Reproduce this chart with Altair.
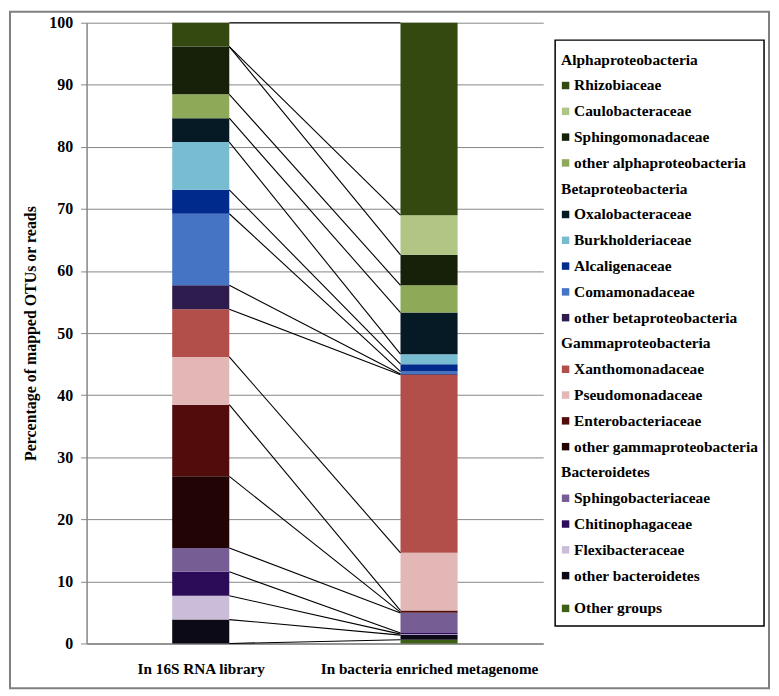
import altair as alt
import pandas as pd

# ---------------- data ----------------
samples = ["In 16S RNA library", "In bacteria enriched metagenome"]

groups = ["Alphaproteobacteria", "Betaproteobacteria", "Gammaproteobacteria", "Bacteroidetes"]

series = [
    "Rhizobiaceae", "Caulobacteraceae", "Sphingomonadaceae", "other alphaproteobacteria",
    "Oxalobacteraceae", "Burkholderiaceae", "Alcaligenaceae", "Comamonadaceae",
    "other betaproteobacteria",
    "Xanthomonadaceae", "Pseudomonadaceae", "Enterobacteriaceae", "other gammaproteobacteria",
    "Sphingobacteriaceae", "Chitinophagaceae", "Flexibacteraceae", "other bacteroidetes",
    "Other groups",
]
# index into groups (-1 = no header)
series_group = [0, 0, 0, 0, 1, 1, 1, 1, 1, 2, 2, 2, 2, 3, 3, 3, 3, -1]

# percentages, listed top of stack first
library_16s = [3.846, 0, 7.692, 3.846, 3.846, 7.692, 3.846, 11.538, 3.846,
               7.692, 7.692, 11.538, 11.538, 3.846, 3.846, 3.846, 3.846, 0]
metagenome = [31.0, 6.4, 4.9, 4.4, 6.7, 1.6, 1.2, 0.4, 0.1,
              28.7, 9.3, 0.3, 0.1, 3.2, 0.2, 0.15, 0.75, 0.6]

colors = [
    "#33490f", "#b1c584", "#172008", "#8eaa58",
    "#061a26", "#78bcd2", "#002a8c", "#4674c4", "#2e1c4e",
    "#b24f4b", "#e2b7b6", "#520c0b", "#220405",
    "#765d94", "#2c0b58", "#cabdd9", "#0c0a16",
    "#3e5f16",
]

y_ticks = list(range(0, 101, 10))
y_title = "Percentage of mapped OTUs or reads"

FONT = "Liberation Serif, Times New Roman, serif"
GRID = "#868686"

# ---------------- tables ----------------
bar_rows = []
tops = []
for i, vals in enumerate([library_16s, metagenome]):
    bottom = 0.0
    t = {}
    for name, v in zip(reversed(series), reversed(vals)):
        bar_rows.append(dict(pos=i, series=name, y0=bottom, y1=bottom + v))
        t[name] = bottom + v
        bottom += v
    tops.append(t)
bars_df = pd.DataFrame(bar_rows)
bars_df = bars_df[bars_df.y1 > bars_df.y0]

lines_df = pd.DataFrame({
    "series": series,
    "yl": [tops[0][s] for s in series],
    "yr": [tops[1][s] for s in series],
})

leg_rows = []
r = 0
for g_idx, g in enumerate(groups):
    leg_rows.append(dict(label=g, kind="header", row=r, color="#ffffff"))
    r += 1
    for s, gi, c in zip(series, series_group, colors):
        if gi == g_idx:
            leg_rows.append(dict(label=s, kind="item", row=r, color=c))
            r += 1
for s, gi, c in zip(series, series_group, colors):
    if gi == -1:
        leg_rows.append(dict(label=s, kind="item", row=r + 0.27, color=c))
        r += 1
leg_df = pd.DataFrame(leg_rows)

# ---------------- main chart ----------------
label_expr = f"datum.value < 1 ? '{samples[0]}' : '{samples[1]}'"
x_scale = alt.Scale(domain=[0, 2], nice=False, zero=False)
x_axis = alt.Axis(values=[0.5, 1.5], labelExpr=label_expr, title=None, grid=False,
                  ticks=False, tickSize=0, labelPadding=18, labelFontSize=15.3,
                  labelLimit=400, domainColor=GRID, domainWidth=1.5, labelAngle=0)
y_scale = alt.Scale(domain=[0, 100], nice=False)
y_axis = alt.Axis(values=y_ticks, title=y_title, grid=True, gridColor=GRID, gridWidth=1,
                  tickSize=6, tickColor=GRID, labelPadding=8, labelFontSize=16,
                  titleFontSize=16, titlePadding=10, domainColor=GRID, domainWidth=1.5)

bars = alt.Chart(bars_df).transform_calculate(
    xa="datum.pos + 0.375", xb="datum.pos + 0.625"
).mark_rect().encode(
    x=alt.X("xa:Q", scale=x_scale, axis=x_axis),
    x2="xb:Q",
    y=alt.Y("y0:Q", scale=y_scale, axis=y_axis),
    y2="y1:Q",
    color=alt.Color("series:N", scale=alt.Scale(domain=series, range=colors), legend=None),
)

links = alt.Chart(lines_df).transform_calculate(
    xa="0.625", xb="1.375"
).mark_rule(color="black", strokeWidth=1.1).encode(
    x=alt.X("xa:Q", scale=x_scale, axis=x_axis),
    x2="xb:Q",
    y=alt.Y("yl:Q", scale=y_scale, axis=y_axis),
    y2="yr:Q",
)

# outer chart-area frame (decoration)
frame = alt.Chart(lines_df).transform_filter("datum.series == 'Rhizobiaceae'").mark_rect(
    fillOpacity=0, stroke="#7f7f7f", strokeWidth=2
).encode(x=alt.value(-77), x2=alt.value(686), y=alt.value(-11), y2=alt.value(669))

main = alt.layer(bars, links, frame).properties(width=459, height=624)

# ---------------- legend panel ----------------
leg_y = alt.Y("row:Q", scale=alt.Scale(domain=[-0.76, 21.955], reverse=True, nice=False, zero=False),
              axis=None)

head_txt = alt.Chart(leg_df).transform_filter("datum.kind == 'header'").mark_text(
    align="left", baseline="middle", font=FONT, fontSize=15.5, fontWeight="bold", color="black"
).encode(x=alt.value(6), y=leg_y, text="label:N")

item_txt = alt.Chart(leg_df).transform_filter("datum.kind == 'item'").mark_text(
    align="left", baseline="middle", font=FONT, fontSize=15.5, fontWeight="bold", color="black"
).encode(x=alt.value(19), y=leg_y, text="label:N")

item_sq = alt.Chart(leg_df).transform_filter("datum.kind == 'item'").mark_square(
    size=56, opacity=1
).encode(x=alt.value(10.5), y=leg_y, color=alt.Color("color:N", scale=None))

legend = alt.layer(head_txt, item_sq, item_txt).properties(
    width=210, height=589,
    view=alt.ViewBackground(stroke="black", strokeWidth=1.5),
)

chart = alt.hconcat(main, legend, spacing=12, center=True, bounds="flush").resolve_scale(
    x="independent", y="independent", color="independent"
).properties(
    padding={"left": 0, "top": 0, "right": 0, "bottom": 0},
    background="white",
).configure_view(stroke="transparent").configure_axis(
    labelFont=FONT, titleFont=FONT, labelFontWeight="bold", titleFontWeight="bold",
    labelColor="black", titleColor="black",
)

chart.save("out.html", embed_options={"renderer": "svg", "actions": False})
